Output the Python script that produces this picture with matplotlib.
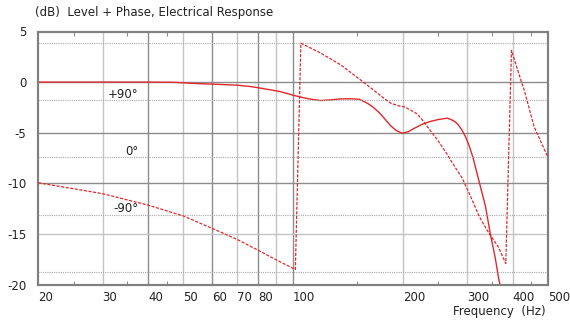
import matplotlib
matplotlib.use("Agg")
import matplotlib.pyplot as plt

plt.rcParams['font.family'] = ['DejaVu Sans']
plt.rcParams['axes.unicode_minus'] = False

# ---- data ----
level_freq = [20, 30, 40, 47, 55, 60, 70, 76, 80, 92, 100, 110, 119, 127, 135, 145,
              152, 160, 166, 172, 178, 185, 192, 199, 207, 214, 225, 237, 250, 265,
              275, 282, 290, 297, 304, 311, 323, 337, 347, 358, 367, 380]
level_db = [0.0, 0.0, 0.0, -0.02, -0.15, -0.2, -0.3, -0.43, -0.55, -0.93, -1.3, -1.65,
            -1.82, -1.75, -1.66, -1.65, -1.7, -2.1, -2.5, -3.0, -3.6, -4.3, -4.8, -5.05,
            -4.9, -4.6, -4.2, -3.9, -3.7, -3.56, -3.8, -4.1, -4.7, -5.4, -6.3, -7.4,
            -9.7, -12.3, -14.9, -17.3, -19.6, -22.0]

phase_freq = [20, 30, 40, 50, 60, 70, 80, 90, 101.4, 105, 119, 135, 155, 177, 185, 195,
              202, 210, 219, 228, 237, 249, 265, 270, 291, 307, 324, 345, 365, 383,
              397, 421, 430, 458, 480, 499]
phase_deg = [-40, -57, -75, -92, -111.6, -128.4, -145.5, -161, -176, 179, 163.5, 145,
             119, 93, 85, 80.6, 79, 74, 68, 56, 43, 27, 4, -4, -33, -62, -93, -120,
             -140, -166.6, 167.6, 121.5, 106, 48, 22, 1]

x_major = [20, 30, 40, 50, 60, 70, 80, 100, 200, 300, 400, 500]
x_minor = [25, 35, 45, 150, 250, 350, 450]
x_grid = [30, 40, 50, 60, 70, 80, 90, 100, 200, 300, 400]
x_grid_dark = [40, 60, 80, 100]
y_ticks = [5, 0, -5, -10, -15, -20]
y_grid = [0, -5, -10, -15]
phase_grid = [-180, -90, 0, 90, 180]
phase_labels = {90: '+90°', 0: '0°', -90: '-90°'}

RED = '#e0282c'
DARK = '#8c8c8c'
LIGHT = '#c4c4c4'
TXT = '#222222'
FS = 8.5

fig = plt.figure(figsize=(5.70, 3.21), dpi=100)
ax = fig.add_axes([38.3 / 570, 1 - 284.5 / 321, (548 - 38.3) / 570, (284.5 - 31.5) / 321])
ax.set_xscale('log')
ax.set_xlim(20, 500)
ax.set_ylim(-20, 5)

for f in x_grid:
    ax.axvline(f, color=DARK if f in x_grid_dark else LIGHT, lw=1.0, zorder=1)
for y in y_grid:
    ax.axhline(y, color=LIGHT if y == -15 else DARK, lw=1.0, zorder=1)

ax2 = ax.twinx()
ax2.set_ylim(-199.5, 197.3)
ax2.set_yticks([])
for p in phase_grid:
    ax2.axhline(p, color='#a8a8a8', lw=0.8, ls=(0, (1, 1)), zorder=1)
for p, t in phase_labels.items():
    ax2.annotate(t, xy=(37.6, p), xytext=(0, 4.2), textcoords='offset points',
                 ha='right', va='center', fontsize=FS, color=TXT)

ax.plot(level_freq, level_db, color=RED, lw=1.0, zorder=3)
ax2.plot(phase_freq, phase_deg, color=RED, lw=0.9, ls=(0, (2.5, 1.2)), zorder=3)

ax.set_xticks(x_major)
ax.set_xticklabels([str(v) for v in x_major])
for lab in ax.get_xticklabels():
    lab.set_horizontalalignment('left')
ax.set_xticks(x_minor, minor=True)
ax.set_xticklabels([''] * len(x_minor), minor=True)
ax.tick_params(axis='x', which='major', length=0, pad=4.5, labelsize=FS, colors=TXT)
ax.tick_params(axis='x', which='minor', direction='in', length=3, top=True, bottom=True,
               color=DARK, width=0.8)

ax.set_yticks(y_ticks)
ax.set_yticklabels([str(v) for v in y_ticks])
ax.tick_params(axis='y', which='both', length=0, pad=8.5, labelsize=FS, colors=TXT)

for a in (ax, ax2):
    for s in a.spines.values():
        s.set_color('#808080')
        s.set_linewidth(1.5)

fig.text(35 / 570, 1 - 12.3 / 321, '(dB)  Level + Phase, Electrical Response',
         fontsize=FS, ha='left', va='center', color=TXT)
fig.text(546 / 570, 1 - 312 / 321, 'Frequency  (Hz)', fontsize=FS, ha='right',
         va='center', color=TXT)

fig.savefig('out.png', dpi=100)
